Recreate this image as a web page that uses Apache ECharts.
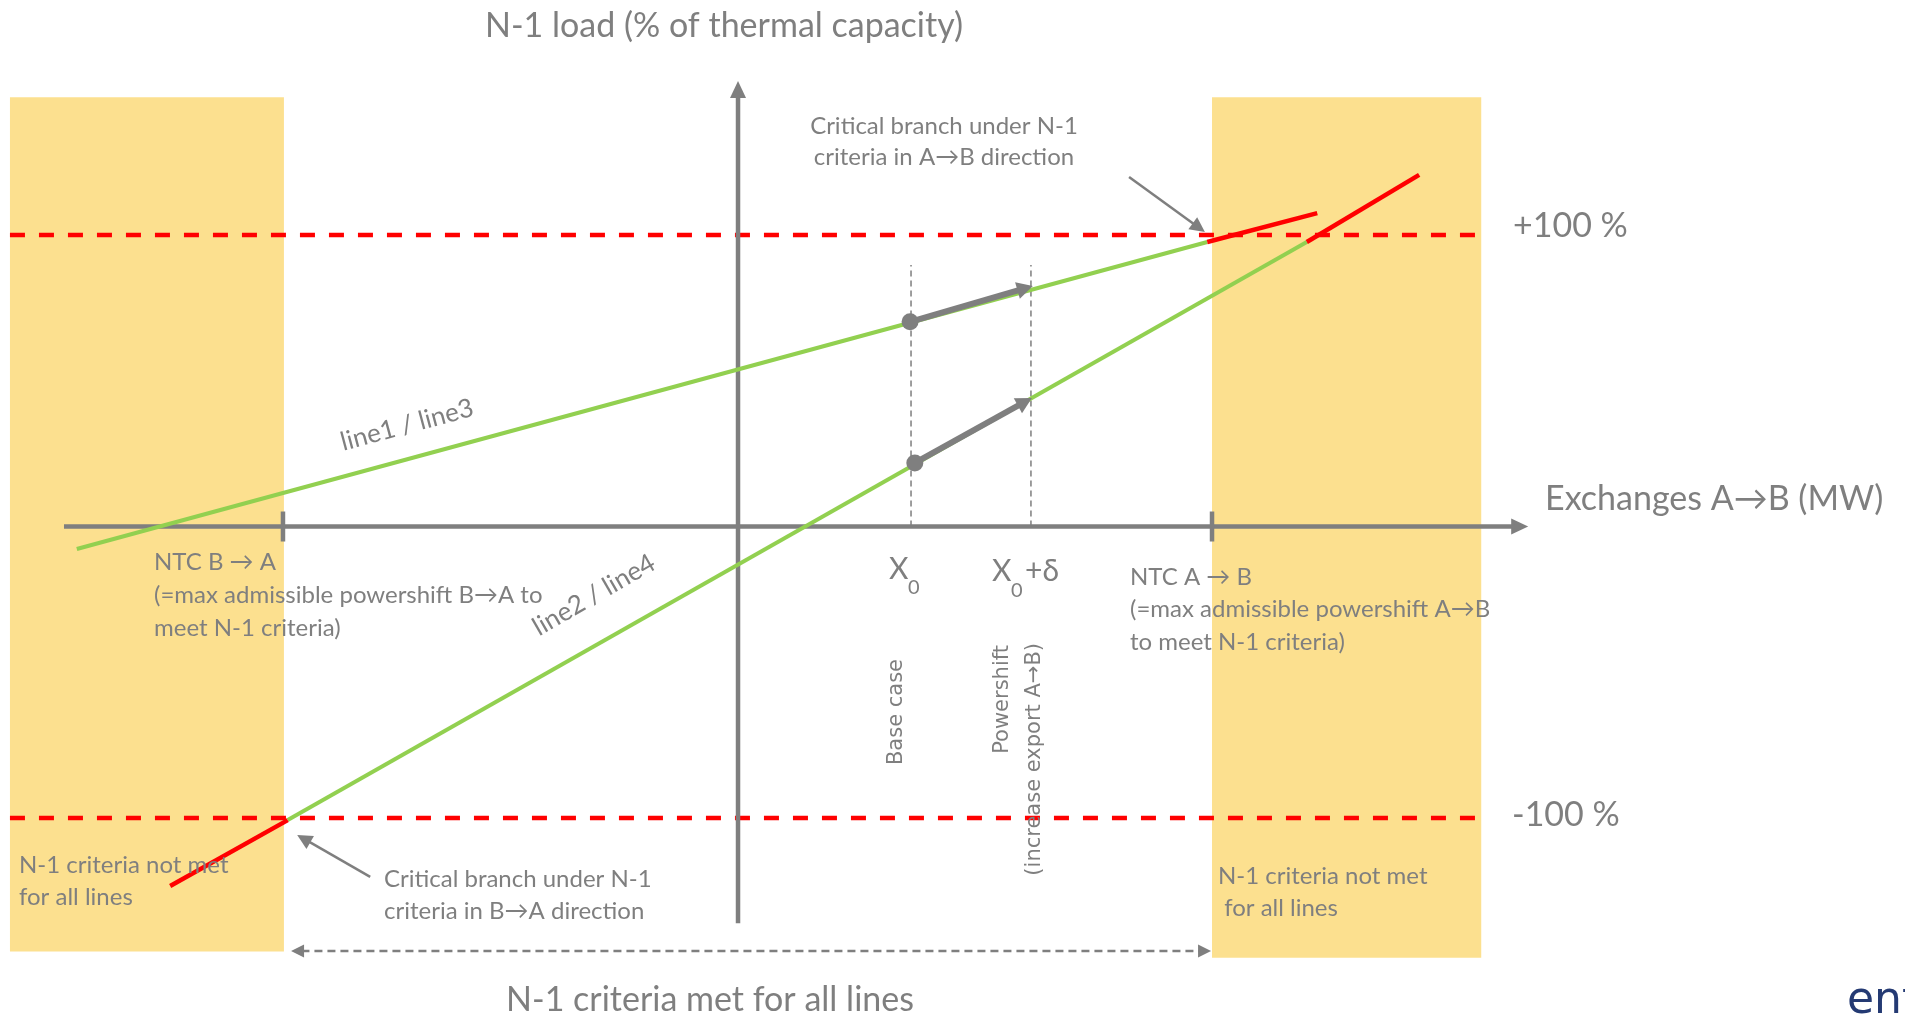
<!DOCTYPE html>
<html><head><meta charset="utf-8">
<script src="https://cdn.jsdelivr.net/npm/echarts@6/dist/echarts.min.js"></script>
<style>html,body{margin:0;padding:0;background:#fff;overflow:hidden}#main{width:1905px;height:1016px;}</style>
</head><body><div id="main"></div>
<script>
// ---------- data (x: exchanges A→B in MW, y: N-1 load in % of thermal capacity) ----------
const X_RANGE = [-1557, 2462];
const Y_RANGE = [-167.9, 180.6];
const NTC_TICKS = [-960, 1000];            // NTC B→A , NTC A→B
const X0_LINES = [365, 618];               // X0 , X0+δ
const X0_LINE_TOP = 89.7;
const LIMITS = [100, -100];                // +100 % , -100 %
const LIMIT_SPAN = [-1536, 1565];
const BANDS = [[-1536, -145.8, -958, 147.2], [1000, -147.9, 1568, 147.2]];
const LINE13 = [[-1395, -7.7], [990, 97.6]];
const LINE13_OVER = [[990, 97.6], [1222, 107.5]];
const LINE24 = [[-950, -100.7], [1200, 97.6]];
const LINE24_OVER = [[1200, 97.6], [1437, 120.6]];
const LINE24_UNDER = [[-950, -100.7], [-1198, -123.3]];
const BASE_POINTS = [[363, 70.2], [373, 21.8]];
const SHIFT_POINTS = [[622, 82.5], [620, 44.1]];
const EXCH_AXIS = [[-1422, 0], [1667, 0]];
const LOAD_AXIS = [[0, -136.1], [0, 152.8]];
const CRIT_AB = [[825, 119.9], [985, 101.0]];
const CRIT_BA = [[-776, -120.2], [-930, -105.8]];
const MET_RANGE = [[-943, -145.6], [998, -145.6]];

// ---------- styles ----------
const GRAY = '#7f7f7f', GREEN = '#92d050', RED = '#ff0000', YELLOW = '#fce08f';
const CAL = 'Lato, "Open Sans", "DejaVu Sans", sans-serif';
const SANS = '"DejaVu Sans", "Open Sans", sans-serif';

function arrowSeries(name, segs, o) {
  return {
    type: 'custom', name, z: o.z || 5, silent: true, clip: false, animation: false,
    data: segs.map(s => [s[0][0], s[0][1], s[1][0], s[1][1]]),
    encode: { x: [0, 2], y: [1, 3] },
    renderItem(params, api) {
      const a = api.coord([api.value(0), api.value(1)]);
      const b = api.coord([api.value(2), api.value(3)]);
      const dx = b[0] - a[0], dy = b[1] - a[1], len = Math.hypot(dx, dy);
      const ux = dx / len, uy = dy / len, px = -uy, py = ux;
      const children = [];
      const head = (t, vx, vy) => ({
        type: 'polygon',
        shape: { points: [t,
          [t[0] - vx * o.headL + px * o.headW / 2, t[1] - vy * o.headL + py * o.headW / 2],
          [t[0] - vx * o.headL - px * o.headW / 2, t[1] - vy * o.headL - py * o.headW / 2]] },
        style: { fill: o.color }
      });
      let s = a.slice(), e = b.slice();
      if (o.end) { e = [b[0] - ux * o.headL * 0.8, b[1] - uy * o.headL * 0.8]; children.push(head(b, ux, uy)); }
      if (o.start) { s = [a[0] + ux * o.headL * 0.8, a[1] + uy * o.headL * 0.8]; children.push(head(a, -ux, -uy)); }
      children.push({ type: 'line', shape: { x1: s[0], y1: s[1], x2: e[0], y2: e[1] },
        style: { stroke: o.color, lineWidth: o.width, lineDash: o.dash || null } });
      return { type: 'group', children };
    }
  };
}
function lineSeries(name, data, color, width, type, z) {
  return { type: 'line', name, data, z, symbol: 'none', silent: true, animation: false,
    lineStyle: { color, width, type: type || 'solid', cap: 'butt' } };
}
function txt(x, y, text, style, extra) {
  return Object.assign({ type: 'text', x, y, z: 100, silent: true,
    style: Object.assign({ text, fill: GRAY, fontFamily: CAL, fontSize: 24, align: 'left', verticalAlign: 'middle' }, style || {}) }, extra || {});
}

const series = [
  { type: 'custom', name: 'bands', z: 1, silent: true, clip: false, animation: false,
    data: BANDS, encode: { x: [0, 2], y: [1, 3] },
    renderItem(params, api) {
      const p1 = api.coord([api.value(0), api.value(3)]);
      const p2 = api.coord([api.value(2), api.value(1)]);
      return { type: 'rect', shape: { x: p1[0], y: p1[1], width: p2[0] - p1[0], height: p2[1] - p1[1] }, style: { fill: YELLOW } };
    } },
  lineSeries('limit up', [[LIMIT_SPAN[0], LIMITS[0]], [LIMIT_SPAN[1], LIMITS[0]]], RED, 4.5, [15, 14], 3),
  lineSeries('limit down', [[LIMIT_SPAN[0], LIMITS[1]], [LIMIT_SPAN[1], LIMITS[1]]], RED, 4.5, [15, 14], 3),
  lineSeries('X0', [[X0_LINES[0], 0], [X0_LINES[0], X0_LINE_TOP]], GRAY, 1.5, [6, 4], 2),
  lineSeries('X0+δ', [[X0_LINES[1], 0], [X0_LINES[1], X0_LINE_TOP]], GRAY, 1.5, [6, 4], 2),
  arrowSeries('exchanges axis', [EXCH_AXIS], { color: GRAY, width: 4.5, headL: 17, headW: 16, end: true, z: 4 }),
  arrowSeries('load axis', [LOAD_AXIS], { color: GRAY, width: 4.5, headL: 17, headW: 16, end: true, z: 4 }),
  { type: 'custom', name: 'NTC ticks', z: 4, silent: true, clip: false, animation: false,
    data: NTC_TICKS.map(x => [x, 0]),
    renderItem(params, api) {
      const p = api.coord([api.value(0), api.value(1)]);
      return { type: 'line', shape: { x1: p[0], y1: p[1] - 15, x2: p[0], y2: p[1] + 15 }, style: { stroke: GRAY, lineWidth: 4.5 } };
    } },
  lineSeries('line1 / line3', LINE13, GREEN, 4, 'solid', 6),
  lineSeries('line2 / line4', LINE24, GREEN, 4, 'solid', 6),
  lineSeries('line1 / line3 overload', LINE13_OVER, RED, 4.5, 'solid', 7),
  lineSeries('line2 / line4 overload', LINE24_OVER, RED, 4.5, 'solid', 7),
  lineSeries('line2 / line4 overload B→A', LINE24_UNDER, RED, 4.5, 'solid', 7),
  arrowSeries('powershift', BASE_POINTS.map((p, i) => [p, SHIFT_POINTS[i]]), { color: GRAY, width: 6, headL: 16, headW: 17, end: true, z: 8 }),
  { type: 'scatter', name: 'base case', data: BASE_POINTS, symbolSize: 17, z: 9, silent: true, animation: false,
    itemStyle: { color: GRAY, opacity: 1 } },
  arrowSeries('critical A→B', [CRIT_AB], { color: GRAY, width: 2.5, headL: 15, headW: 15, end: true, z: 8 }),
  arrowSeries('critical B→A', [CRIT_BA], { color: GRAY, width: 2.5, headL: 15, headW: 15, end: true, z: 8 }),
  arrowSeries('N-1 met range', [MET_RANGE], { color: GRAY, width: 2.5, headL: 13, headW: 13, end: true, start: true, dash: [8, 5], z: 8 })
];

const graphic = [
  txt(724, 26, 'N-1 load (% of thermal capacity)', { fontSize: 34, align: 'center' }),
  txt(1545, 499, 'Exchanges A→B (MW)', { fontSize: 34 }),
  txt(1513, 226, '+100 %', { fontSize: 34 }),
  txt(1512, 815, '-100 %', { fontSize: 34 }),
  txt(944, 141.5, 'Critical branch under N-1\ncriteria in A→B direction', { align: 'center', lineHeight: 31 }),
  txt(407, 425, 'line1 / line3', { fontSize: 26, align: 'center' }, { rotation: 15 * Math.PI / 180 }),
  txt(594, 595, 'line2 / line4', { fontSize: 26, align: 'center' }, { rotation: 30 * Math.PI / 180 }),
  txt(154, 595.5, 'NTC B → A\n(=max admissible powershift B→A to\nmeet N-1 criteria)', { lineHeight: 33 }),
  txt(1130, 609.5, 'NTC A → B\n(=max admissible powershift A→B\nto meet N-1 criteria)', { lineHeight: 32.5 }),
  txt(889, 569, 'X', { fontSize: 30 }),
  txt(908, 588, '0', { fontSize: 20 }),
  txt(992, 571, 'X', { fontSize: 30 }),
  txt(1011, 591, '0', { fontSize: 20 }),
  txt(1025, 571, '+δ', { fontSize: 30 }),
  txt(897, 712, 'Base case', { fontFamily: SANS, fontSize: 21, align: 'center' }, { rotation: Math.PI / 2 }),
  txt(1003, 645, 'Powershift', { fontFamily: SANS, fontSize: 21, align: 'right' }, { rotation: Math.PI / 2 }),
  txt(1035, 643, '(increase export A→B)', { fontFamily: SANS, fontSize: 21, align: 'right' }, { rotation: Math.PI / 2 }),
  txt(19, 881, 'N-1 criteria not met\nfor all lines', { lineHeight: 32 }),
  txt(1218, 892, 'N-1 criteria not met\n for all lines', { lineHeight: 32 }),
  txt(384, 895, 'Critical branch under N-1\ncriteria in B→A direction', { lineHeight: 32 }),
  txt(710, 1000, 'N-1 criteria met for all lines', { fontSize: 34, align: 'center' }),
  txt(1847, 1002, 'entso-e', { fontSize: 44, fill: '#243a73', fontFamily: SANS })
];

const chart = echarts.init(document.getElementById('main'), null, { renderer: 'canvas' });
chart.setOption({
  backgroundColor: '#ffffff',
  animation: false,
  grid: { left: 0, right: 0, top: 0, bottom: 0, containLabel: false },
  xAxis: { type: 'value', min: X_RANGE[0], max: X_RANGE[1], show: false },
  yAxis: { type: 'value', min: Y_RANGE[0], max: Y_RANGE[1], show: false },
  series,
  graphic
});
</script></body></html>
